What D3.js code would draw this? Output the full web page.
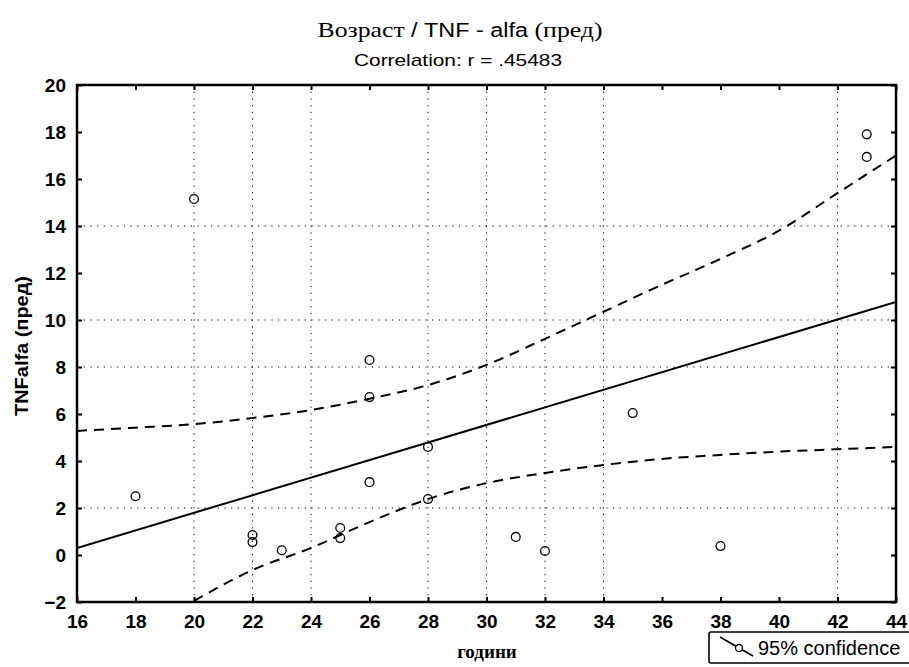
<!DOCTYPE html>
<html><head><meta charset="utf-8">
<script src="https://cdn.jsdelivr.net/npm/d3@7"></script>
<style>body{margin:0;background:#fff}svg{display:block}</style>
</head><body><svg id="c" width="909" height="667"></svg>
<script>
const xTicks = [16,18,20,22,24,26,28,30,32,34,36,38,40,42,44];
const yTicks = [-2,0,2,4,6,8,10,12,14,16,18,20];
const xGrid = [20,22,24,28,30,32,34,42];
const yGrid = [2,8,10,14];
const ages = [18,20,22,22,23,25,25,26,26,26,28,28,31,32,35,38,43,43];
const tnf  = [2.5,15.15,0.85,0.55,0.2,1.15,0.72,8.3,6.72,3.1,4.6,2.38,0.77,0.17,6.04,0.38,17.9,16.94];
const fitX = [16,44];
const fitY = [0.3,10.77];
const bandX = [16,18,20,22,24,26,28,30,32,34,36,38,40,42,44];
const upper = [5.28,5.42,5.57,5.83,6.17,6.65,7.23,8.09,9.2,10.35,11.5,12.6,13.8,15.4,17.0];
const lower = [-4.9,-3.4,-1.95,-0.64,0.3,1.4,2.38,3.06,3.49,3.83,4.09,4.26,4.4,4.5,4.6];

const svg = d3.select('#c');
const L=77,R=896,T=85,B=602;
const x = d3.scaleLinear().domain([16,44]).range([L,R]);
const y = d3.scaleLinear().domain([-2,20]).range([B,T]);
const sans = 'Liberation Sans, Arial, sans-serif';
const serif = 'Liberation Serif, Times New Roman, serif';

svg.append('defs').append('clipPath').attr('id','pc')
  .append('rect').attr('x',L).attr('y',T).attr('width',R-L).attr('height',B-T);

// grid
const g = svg.append('g').attr('stroke','#000').attr('stroke-width',1).attr('stroke-dasharray','1.2,5.5');
g.selectAll('.vg').data(xGrid).join('line').attr('x1',d=>x(d)).attr('x2',d=>x(d)).attr('y1',T).attr('y2',B);
g.selectAll('.hg').data(yGrid).join('line').attr('y1',d=>y(d)).attr('y2',d=>y(d)).attr('x1',L).attr('x2',R);

const plot = svg.append('g').attr('clip-path','url(#pc)');
const line = d3.line().x(d=>x(d[0])).y(d=>y(d[1])).curve(d3.curveMonotoneX);
plot.append('path').attr('d',d3.line().x(d=>x(d[0])).y(d=>y(d[1]))(fitX.map((v,i)=>[v,fitY[i]])))
  .attr('fill','none').attr('stroke','#000').attr('stroke-width',2);
plot.append('path').attr('d',line(bandX.map((v,i)=>[v,upper[i]])))
  .attr('fill','none').attr('stroke','#000').attr('stroke-width',2).attr('stroke-dasharray','10,7');
plot.append('path').attr('d',line(bandX.map((v,i)=>[v,lower[i]])))
  .attr('fill','none').attr('stroke','#000').attr('stroke-width',2).attr('stroke-dasharray','10,7');

plot.selectAll('circle.pt').data(ages.map((a,i)=>[a,tnf[i]])).join('circle')
  .attr('cx',d=>x(d[0])).attr('cy',d=>y(d[1])).attr('r',4.4)
  .attr('fill','none').attr('stroke','#000').attr('stroke-width',1.3);

// axes with inward ticks
const fmt = d3.format('d');
const ax = [
  [d3.axisBottom(x).tickValues(xTicks).tickFormat(fmt), `translate(0,${B})`],
  [d3.axisTop(x).tickValues(xTicks).tickFormat(''), `translate(0,${T})`],
  [d3.axisLeft(y).tickValues(yTicks).tickFormat(fmt), `translate(${L},0)`],
  [d3.axisRight(y).tickValues(yTicks).tickFormat(''), `translate(${R},0)`]
];
ax.forEach(([a,t],i)=>{
  a.tickSizeInner(-5).tickSizeOuter(0).tickPadding(i===0?13:i===2?11:0);
  const gg = svg.append('g').attr('transform',t).call(a);
  gg.select('.domain').remove();
  gg.selectAll('line').attr('stroke','#000').attr('stroke-width',2);
  gg.selectAll('text').attr('font-family',sans).attr('font-size',19).attr('font-weight','bold').attr('fill','#000');
});
svg.append('rect').attr('x',L).attr('y',T).attr('width',R-L).attr('height',B-T)
  .attr('fill','none').attr('stroke','#000').attr('stroke-width',2.5);

// titles
const tt = svg.append('text').attr('x',460).attr('y',37).attr('text-anchor','middle').attr('font-size',22).attr('fill','#000')
  .attr('textLength',285).attr('lengthAdjust','spacingAndGlyphs');
tt.append('tspan').attr('font-family',serif).text('Возраст ');
tt.append('tspan').attr('font-family',sans).attr('font-size',20).text('/ TNF - alfa ');
tt.append('tspan').attr('font-family',serif).text('(пред)');
svg.append('text').attr('x',458).attr('y',66).attr('text-anchor','middle').attr('font-family',sans)
  .attr('font-size',17).attr('textLength',208).attr('lengthAdjust','spacingAndGlyphs').text('Correlation: r = .45483');
svg.append('text').attr('transform','translate(28,346) rotate(-90)').attr('text-anchor','middle')
  .attr('font-family',sans).attr('font-weight','bold').attr('font-size',18)
  .attr('textLength',140).attr('lengthAdjust','spacingAndGlyphs').text('TNFalfa (пред)');
svg.append('text').attr('x',487).attr('y',658).attr('text-anchor','middle').attr('font-family',serif)
  .attr('font-weight','bold').attr('font-size',19).text('години');

// legend
const lg = svg.append('g');
lg.append('rect').attr('x',709).attr('y',632).attr('width',230).attr('height',31).attr('rx',2)
  .attr('fill','#fff').attr('stroke','#000').attr('stroke-width',1.6);
lg.append('line').attr('x1',720).attr('y1',637).attr('x2',753).attr('y2',656).attr('stroke','#000').attr('stroke-width',1.6);
lg.append('circle').attr('cx',739).attr('cy',648).attr('r',3.5).attr('fill','#fff').attr('stroke','#000').attr('stroke-width',1.3);
lg.append('text').attr('x',758).attr('y',655).attr('font-family',sans).attr('font-size',20).text('95% confidence');
</script></body></html>
